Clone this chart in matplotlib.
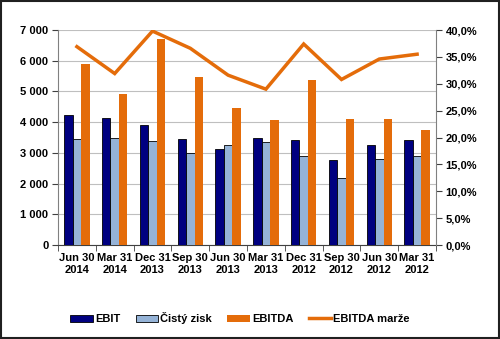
import numpy as np
import matplotlib
matplotlib.use('Agg')
import matplotlib.pyplot as plt
from matplotlib.ticker import FuncFormatter, MultipleLocator
from matplotlib.patches import Rectangle

plt.rcParams['font.family'] = ['Liberation Sans', 'DejaVu Sans']

# data
periods = ['Jun 30\n2014', 'Mar 31\n2014', 'Dec 31\n2013', 'Sep 30\n2013', 'Jun 30\n2013',
           'Mar 31\n2013', 'Dec 31\n2012', 'Sep 30\n2012', 'Jun 30\n2012', 'Mar 31\n2012']
ebit = [4250, 4120, 3920, 3440, 3130, 3500, 3410, 2760, 3250, 3410]
cisty_zisk = [3440, 3470, 3390, 2990, 3250, 3350, 2900, 2180, 2790, 2900]
ebitda = [5880, 4920, 6700, 5460, 4470, 4070, 5370, 4090, 4090, 3750]
ebitda_marze = [36.9, 31.9, 39.8, 36.6, 31.6, 29.0, 37.4, 30.8, 34.6, 35.5]

c_ebit = '#000080'
c_zisk = '#95B3D7'
c_ebitda = '#E46C0A'

fig = plt.figure(figsize=(5.0, 3.39), dpi=100)
ax = fig.add_axes([0.116, 0.277, 0.756, 0.6345])
ax2 = ax.twinx()

x = np.arange(len(periods))
w = 0.225
ax.bar(x - w, ebit, w, color=c_ebit, edgecolor='black', linewidth=0.6, label='EBIT', zorder=3)
ax.bar(x, cisty_zisk, w, color=c_zisk, edgecolor='black', linewidth=0.6, label='Čistý zisk', zorder=3)
ax.bar(x + w, ebitda, w, color=c_ebitda, edgecolor='none', label='EBITDA', zorder=3)
ax2.plot(x, ebitda_marze, color=c_ebitda, linewidth=2.5, label='EBITDA marže',
         solid_joinstyle='miter')

ax.set_xlim(-0.5, len(periods) - 0.5)
ax.set_ylim(0, 7000)
ax2.set_ylim(0, 40)
ax.yaxis.set_major_locator(MultipleLocator(1000))
ax2.yaxis.set_major_locator(MultipleLocator(5))
ax.yaxis.set_major_formatter(FuncFormatter(lambda v, p: f'{int(v):,}'.replace(',', ' ')))
ax2.yaxis.set_major_formatter(FuncFormatter(lambda v, p: f'{v:.1f}%'.replace('.', ',')))

ax.grid(axis='y', color='#BFBFBF', linewidth=0.8, zorder=0)
ax.set_axisbelow(True)

ax.set_xticks(x)
ax.set_xticklabels(periods)
ax.set_xticks(np.arange(-0.5, len(periods), 1), minor=True)
ax.tick_params(axis='x', which='major', length=0, pad=6)
ax.tick_params(axis='x', which='minor', length=4, color='#404040', direction='out')

for a in (ax, ax2):
    for s in ('top',):
        a.spines[s].set_visible(False)
    a.tick_params(axis='y', length=4, color='#404040', width=0.8)
    for lbl in a.get_xticklabels() + a.get_yticklabels():
        lbl.set_fontweight('bold')
        lbl.set_fontsize(8)
ax2.spines['left'].set_visible(False)
ax2.spines['bottom'].set_visible(False)
ax.spines['left'].set_color('#808080')
ax.spines['bottom'].set_color('#404040')
ax2.spines['right'].set_color('#808080')
ax.spines['right'].set_visible(False)
ax.tick_params(axis='y', pad=3)
ax2.tick_params(axis='y', pad=3)

h1, l1 = ax.get_legend_handles_labels()
h2, l2 = ax2.get_legend_handles_labels()
fig.legend(h1 + h2, l1 + l2, loc='center', bbox_to_anchor=(0.48, 0.062), ncol=4,
           frameon=False, prop={'weight': 'bold', 'size': 8},
           handlelength=2.0, handleheight=0.6, handletextpad=0.2, columnspacing=1.4)

# black frame around the whole picture
fig.patches.append(Rectangle((0.002, 0.003), 0.996, 0.994, transform=fig.transFigure,
                             fill=False, edgecolor='#202020', linewidth=1.5))

fig.savefig('out.png', dpi=100, facecolor='white')
